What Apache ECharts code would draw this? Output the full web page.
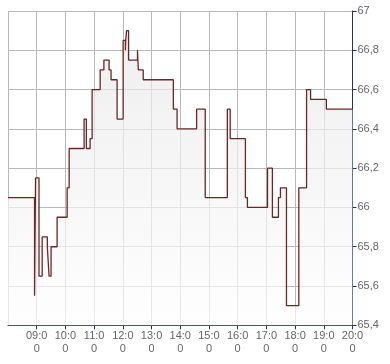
<!DOCTYPE html>
<html><head><meta charset="utf-8">
<script src="https://cdn.jsdelivr.net/npm/echarts@6/dist/echarts.min.js"></script>
<style>html,body{margin:0;padding:0;background:#fff}#c{width:390px;height:364px}</style>
</head><body><div id="c"></div>
<script>
// times in decimal hours, value holds from its time until the next one
var times = [8.0, 8.925, 8.96, 9.08, 9.19, 9.37, 9.43, 9.50, 9.71, 10.06, 10.13, 10.65, 10.73, 10.86, 10.93,
  11.21, 11.34, 11.52, 11.59, 11.80, 12.01, 12.09, 12.10, 12.13, 12.20, 12.51, 12.54, 12.71, 13.76, 13.89,
  14.57, 14.87, 15.64, 15.74, 16.27, 16.34, 17.04, 17.21, 17.42, 17.49, 17.70, 18.13, 18.40, 18.54, 19.09, 20.0];
var prices = [66.05, 65.55, 66.15, 65.65, 65.85, 65.80, 65.65, 65.80, 65.95, 66.10, 66.30, 66.45, 66.30, 66.35, 66.60,
  66.70, 66.75, 66.70, 66.65, 66.45, 66.85, 66.80, 66.85, 66.90, 66.75, 66.80, 66.70, 66.65, 66.50, 66.40,
  66.50, 66.05, 66.50, 66.35, 66.05, 66.00, 66.20, 65.95, 66.05, 66.10, 65.50, 66.10, 66.60, 66.55, 66.50, 66.50];
var hourTicks = [9, 10, 11, 12, 13, 14, 15, 16, 17, 18, 19, 20];
var yMin = 65.4, yMax = 67, yStep = 0.2;

var data = times.map(function (t, i) { return [t, prices[i]]; });
var chart = echarts.init(document.getElementById('c'));
var axisCol = '#1f3366', gridCol = '#b9b9b9', txtCol = '#666666';
var font = 'Liberation Sans, Arial, sans-serif';
chart.setOption({
  animation: false,
  grid: { left: 8, right: 37.5, top: 11, bottom: 38.7 },
  xAxis: {
    type: 'value', min: 8, max: 20, interval: 1,
    axisLine: { show: true, lineStyle: { color: axisCol, width: 1 } },
    axisTick: { show: true, length: 4, lineStyle: { color: axisCol } },
    splitLine: { show: true, lineStyle: { color: gridCol, width: 1 } },
    axisLabel: {
      color: txtCol, fontFamily: font, fontSize: 11, lineHeight: 13, margin: 4,
      showMinLabel: false, showMaxLabel: true,
      formatter: function (v) {
        if (hourTicks.indexOf(v) < 0) return '';
        var h = (v < 10 ? '0' : '') + v;
        return h + ':0\n0';
      }
    }
  },
  yAxis: {
    type: 'value', position: 'right', min: yMin, max: yMax, interval: yStep,
    axisLine: { show: true, lineStyle: { color: axisCol, width: 1 } },
    axisTick: { show: true, length: 4, lineStyle: { color: axisCol } },
    splitLine: { show: true, lineStyle: { color: gridCol, width: 1 } },
    axisLabel: {
      color: txtCol, fontFamily: font, fontSize: 11, margin: 5,
      formatter: function (v) { return (Math.round(v * 10) / 10).toString().replace('.', ','); }
    }
  },
  series: [{
    type: 'line', step: 'end', data: data, symbol: 'none',
    lineStyle: { color: '#6b2626', width: 1.3 },
    areaStyle: {
      origin: 'start',
      color: new echarts.graphic.LinearGradient(0, 0, 0, 1, [
        { offset: 0, color: '#e7e7e7' }, { offset: 1, color: '#fdfdfd' }
      ])
    }
  }]
});
</script></body></html>
